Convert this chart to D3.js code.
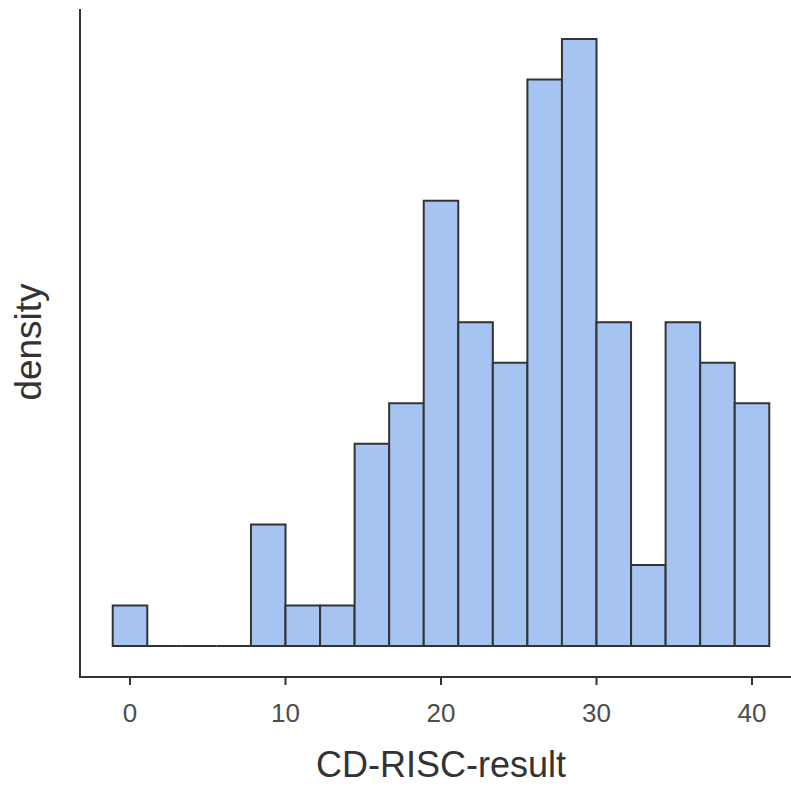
<!DOCTYPE html>
<html>
<head>
<meta charset="utf-8">
<script src="https://cdn.jsdelivr.net/npm/d3@7"></script>
<style>
  body { margin: 0; background: #fff; }
  svg { display: block; font-family: "Liberation Sans", Arial, Helvetica, sans-serif; }
</style>
</head>
<body>
<div id="chart"></div>
<script>
// histogram of CD-RISC-result, 19 bins centred on 0..40
var binCounts = [1, 0, 0, 0, 3, 1, 1, 5, 6, 11, 8, 7, 14, 15, 8, 2, 8, 7, 6];
var binFirstCenter = 0;
var binLastCenter = 40;
var xTicks = [0, 10, 20, 30, 40];

var width = 791, height = 787;
var binWidth = (binLastCenter - binFirstCenter) / (binCounts.length - 1);
var total = d3.sum(binCounts);

var bins = binCounts.map(function(c, i) {
  var mid = binFirstCenter + i * binWidth;
  return { x0: mid - binWidth / 2, x1: mid + binWidth / 2, density: c / (total * binWidth) };
});

var svg = d3.select("#chart").append("svg")
  .attr("width", width)
  .attr("height", height);

var x = d3.scaleLinear().domain([0, 40]).range([130, 752]);
var maxD = d3.max(bins, function(d) { return d.density; });
var y = d3.scaleLinear().domain([0, maxD]).range([646, 39]);

var panelLeft = 80, panelBottom = 677;

// bars (paths so empty bins still show their outline on the baseline)
svg.append("g").selectAll("path")
  .data(bins)
  .enter()
  .append("path")
    .attr("d", function(d) {
      var a = x(d.x0), b = x(d.x1), t = y(d.density), z = y(0);
      return "M" + a + "," + z + "V" + t + "H" + b + "V" + z + "Z";
    })
    .attr("fill", "#a5c4f1")
    .attr("stroke", "#333333")
    .attr("stroke-width", 2);

// axis lines
svg.append("line")
  .attr("x1", panelLeft).attr("x2", panelLeft)
  .attr("y1", 9).attr("y2", panelBottom)
  .attr("stroke", "#333").attr("stroke-width", 2);
svg.append("line")
  .attr("x1", panelLeft - 1).attr("x2", width)
  .attr("y1", panelBottom).attr("y2", panelBottom)
  .attr("stroke", "#333").attr("stroke-width", 2);

// x ticks
var xAxis = svg.append("g").attr("transform", "translate(0," + panelBottom + ")");
xAxis.selectAll("line")
  .data(xTicks)
  .enter()
  .append("line")
    .attr("x1", function(d) { return x(d); })
    .attr("x2", function(d) { return x(d); })
    .attr("y1", 0).attr("y2", 8)
    .attr("stroke", "#333").attr("stroke-width", 2);
xAxis.selectAll("text")
  .data(xTicks)
  .enter()
  .append("text")
    .attr("x", function(d) { return x(d); })
    .attr("y", 45)
    .attr("text-anchor", "middle")
    .attr("fill", "#4d4d4d")
    .style("font-size", "26px")
    .text(function(d) { return d; });

// axis titles
svg.append("text")
  .attr("x", 441)
  .attr("y", 777)
  .attr("text-anchor", "middle")
  .attr("fill", "#333")
  .style("font-size", "36px")
  .text("CD-RISC-result");

svg.append("text")
  .attr("transform", "translate(41,342)rotate(-90)")
  .attr("text-anchor", "middle")
  .attr("fill", "#333")
  .style("font-size", "37px")
  .text("density");
</script>
</body>
</html>
